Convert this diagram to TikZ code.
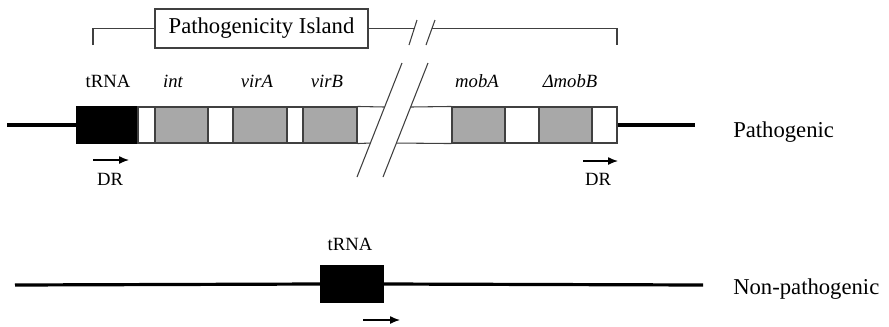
\documentclass[tikz,border=0pt]{standalone}
\usepackage{fontspec}
\setmainfont{Liberation Serif}
\usetikzlibrary{fit,arrows.meta,calc}

\definecolor{genegray}{HTML}{A8A8A8}
\definecolor{edge}{HTML}{404040}

\tikzset{
  seg/.style={fit={#1}, inner sep=0pt, draw=edge, line width=0.8pt},
  whiteseg/.style={seg={#1}, fill=white},
  grayseg/.style={seg={#1}, fill=genegray},
  blackseg/.style={seg={#1}, fill=black, draw=black},
  chrom/.style={line width=2.4pt, black},
  thin/.style={line width=0.8pt, edge},
  label/.style={font=\fontsize{14}{16}\selectfont, anchor=base, inner sep=0pt},
  genelabel/.style={label, font=\fontsize{14}{16}\selectfont\itshape},
  biglabel/.style={font=\fontsize{17}{20}\selectfont, anchor=base west, inner sep=0pt},
  dr/.style={line width=1pt, -{Latex[length=7.5pt,width=6pt]}},
}

\begin{document}
\begin{tikzpicture}[x=0.75pt,y=-0.75pt]
\useasboundingbox (0,0) rectangle (889,326);

% ---------- pathogenic chromosome ----------
\node[blackseg={(77,107) (138,143)}] (trna) {};
\node[whiteseg={(138,107) (155,143)}] (w1) {};
\node[grayseg={(155,107) (208,143)}] (int) {};
\node[whiteseg={(208,107) (233,143)}] (w2) {};
\node[grayseg={(233,107) (287,143)}] (vira) {};
\node[whiteseg={(287,107) (303,143)}] (w3) {};
\node[grayseg={(303,107) (357,143)}] (virb) {};

\node[grayseg={(452,107) (505,143)}] (moba) {};
\node[whiteseg={(505,107) (539,143)}] (w4) {};
\node[grayseg={(539,107) (592,143)}] (mobb) {};
\node[whiteseg={(592,107) (617,143)}] (w5) {};

% break marks across the chromosome
\coordinate (s1a) at (357,177); \coordinate (s1b) at (402,63);
\coordinate (s2a) at (383,177); \coordinate (s2b) at (428,63);
\draw[thin] (s1a) -- (s1b);
\draw[thin] (s2a) -- (s2b);
\coordinate (c1t) at ($(s1a)!0.614!(s1b)$);
\coordinate (c1b) at ($(s1a)!0.298!(s1b)$);
\coordinate (c2t) at ($(s2a)!0.614!(s2b)$);
\coordinate (c2b) at ($(s2a)!0.298!(s2b)$);
\draw[thin] (virb.north east) -- (c1t);
\draw[thin] (virb.south east) -- (c1b);
\draw[thin] (c2t) -- (moba.north west);
\draw[thin] (c2b) -- (moba.south west);

% flanking DNA
\coordinate (lend) at (7,125);
\coordinate (rend) at (695,125);
\draw[chrom] (lend) -- (trna.west);
\draw[chrom] (w5.east) -- (rend);

% gene labels
\node[label] (ltrna) at (108,87) {tRNA};
\node[genelabel] (lint) at (173,87) {int};
\node[genelabel] (lvira) at (257,87) {virA};
\node[genelabel] (lvirb) at (327,87) {virB};
\node[genelabel] (lmoba) at (477,87) {mobA};
\node[genelabel] (lmobb) at (570,87) {ΔmobB};

% direct repeats
\coordinate (dr1a) at (93,160); \coordinate (dr1b) at (129,160);
\draw[dr] (dr1a) -- (dr1b);
\node[label] (dr1) at (110,185) {DR};
\coordinate (dr2a) at (583,161); \coordinate (dr2b) at (618,161);
\draw[dr] (dr2a) -- (dr2b);
\node[label] (dr2) at (598,185) {DR};

% island bracket
\node[draw=edge, line width=0.8pt, fill=white, minimum width=213*0.75pt,
      minimum height=39*0.75pt, inner sep=0pt,
      font=\fontsize{17}{20}\selectfont] (island) at (261.5,28.5) {Pathogenicity Island};
\coordinate (bl) at (93,45);
\coordinate (br) at (617,45);
\coordinate (k1) at (414.5,28.5);
\coordinate (k2) at (432,28.5);
\draw[thin] (bl) |- (island.west);
\draw[thin] (island.east) -- (k1);
\draw[thin] (k2) -| (br);
\coordinate (t1a) at (409,45); \coordinate (t1b) at (417,20);
\coordinate (t2a) at (426,45); \coordinate (t2b) at (435,20);
\draw[thin] (t1a) -- (t1b);
\draw[thin] (t2a) -- (t2b);

\node[biglabel] (path) at (733,137) {Pathogenic};

% ---------- non-pathogenic chromosome ----------
\node[blackseg={(321,266) (383,302)}] (trna2) {};
\coordinate (nl) at (15,285);
\coordinate (nr) at (703,285);
\draw[chrom] (nl) -- (trna2.west);
\draw[chrom] (trna2.east) -- (nr);
\node[label] (ltrna2) at (350,250) {tRNA};
\coordinate (ar1) at (363,320); \coordinate (ar2) at (400,320);
\draw[dr] (ar1) -- (ar2);

\node[biglabel] (nonpath) at (733,294) {Non-pathogenic};
\end{tikzpicture}
\end{document}
